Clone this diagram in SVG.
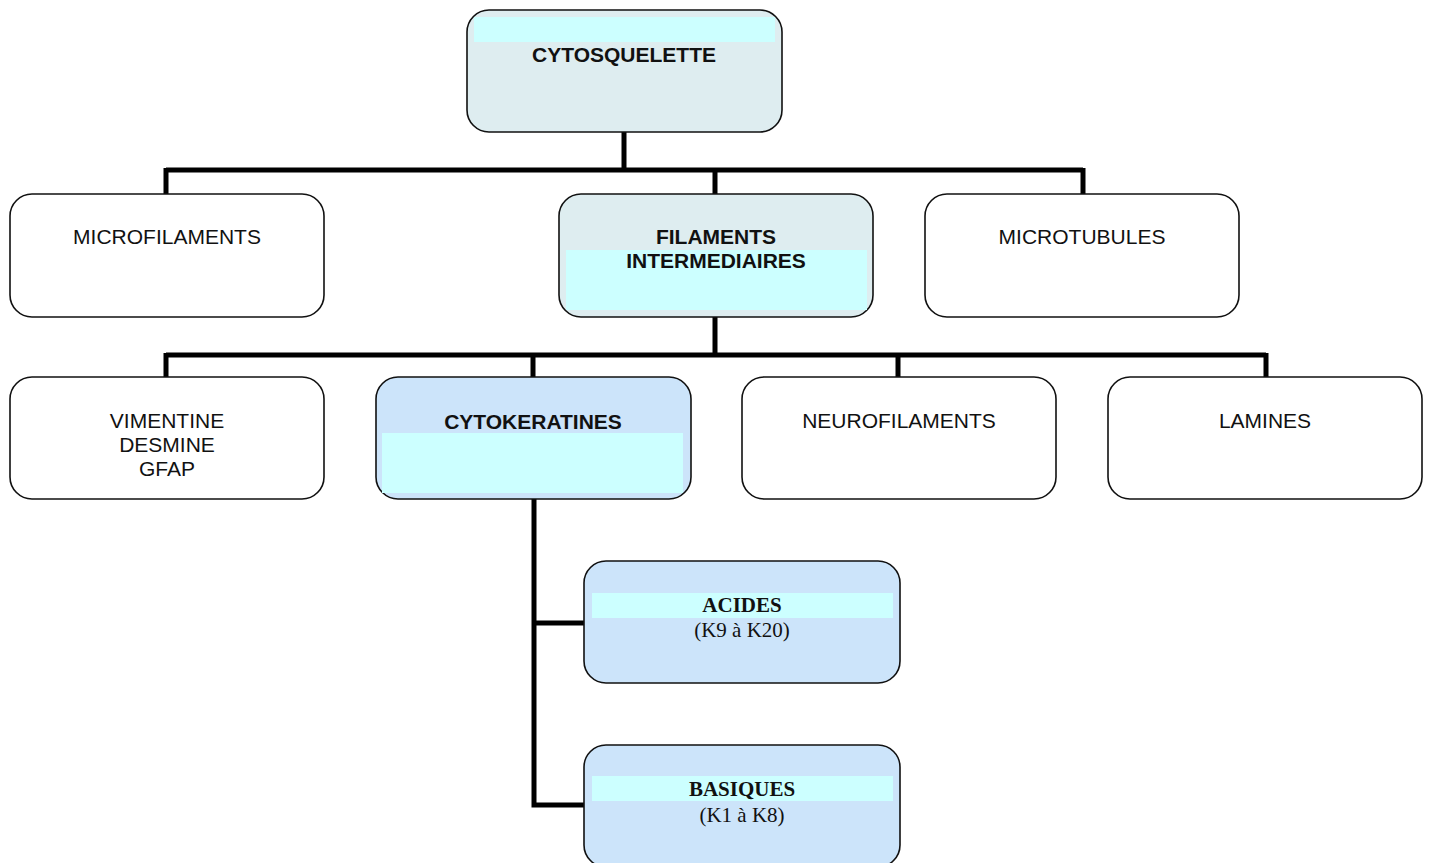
<svg xmlns="http://www.w3.org/2000/svg" width="1429" height="863" viewBox="0 0 1429 863">
<style>
.box{stroke:#111;stroke-width:1.6}
.plain{fill:#fff}
.grey{fill:#deedf0}
.blue{fill:#cce4fa}
.band{fill:#ccffff}
.sans{font-family:"Liberation Sans",Arial,sans-serif;font-size:21px;fill:#111;text-anchor:middle}
.serif{font-family:"Liberation Serif","Times New Roman",serif;font-size:21px;fill:#111;text-anchor:middle}
.b{font-weight:bold}
.conn{fill:none;stroke:#000;stroke-width:5}
</style>
<rect width="1429" height="863" fill="#fff"/>
<g id="connectors">
<path class="conn" d="M624,132 V170 M166,170 H1083 M166,168 V194 M715,168 V194 M1083,168 V194"/>
<path class="conn" d="M715,317 V355 M166,355 H1266 M166,353 V377 M533,353 V377 M898,353 V377 M1266,353 V377"/>
<path class="conn" d="M534,499 V805 H584 M534,623 H584"/>
</g>
<g id="cytosquelette">
<rect class="box grey" x="467" y="10" width="315" height="122" rx="22"/>
<rect class="band" x="474" y="17" width="301" height="25"/>
<text class="sans b" x="624" y="62">CYTOSQUELETTE</text>
</g>
<g id="microfilaments">
<rect class="box plain" x="10" y="194" width="314" height="123" rx="22"/>
<text class="sans" x="167" y="244">MICROFILAMENTS</text>
</g>
<g id="filaments">
<rect class="box grey" x="559" y="194" width="314" height="123" rx="22"/>
<rect class="band" x="566" y="250" width="301" height="60"/>
<text class="sans b" x="716" y="244">FILAMENTS</text>
<text class="sans b" x="716" y="268">INTERMEDIAIRES</text>
</g>
<g id="microtubules">
<rect class="box plain" x="925" y="194" width="314" height="123" rx="22"/>
<text class="sans" x="1082" y="244">MICROTUBULES</text>
</g>
<g id="vimentine">
<rect class="box plain" x="10" y="377" width="314" height="122" rx="22"/>
<text class="sans" x="167" y="428">VIMENTINE</text>
<text class="sans" x="167" y="452">DESMINE</text>
<text class="sans" x="167" y="476">GFAP</text>
</g>
<g id="cytokeratines">
<rect class="box blue" x="376" y="377" width="315" height="122" rx="22"/>
<rect class="band" x="382" y="433" width="301" height="60"/>
<text class="sans b" x="533" y="429">CYTOKERATINES</text>
</g>
<g id="neurofilaments">
<rect class="box plain" x="742" y="377" width="314" height="122" rx="22"/>
<text class="sans" x="899" y="428">NEUROFILAMENTS</text>
</g>
<g id="lamines">
<rect class="box plain" x="1108" y="377" width="314" height="122" rx="22"/>
<text class="sans" x="1265" y="428">LAMINES</text>
</g>
<g id="acides">
<rect class="box blue" x="584" y="561" width="316" height="122" rx="22"/>
<rect class="band" x="592" y="593" width="301" height="25"/>
<text class="serif b" x="742" y="612">ACIDES</text>
<text class="serif" x="742" y="637">(K9 à K20)</text>
</g>
<g id="basiques">
<rect class="box blue" x="584" y="745" width="316" height="122" rx="22"/>
<rect class="band" x="592" y="776" width="301" height="25"/>
<text class="serif b" x="742" y="796">BASIQUES</text>
<text class="serif" x="742" y="822">(K1 à K8)</text>
</g>
</svg>
